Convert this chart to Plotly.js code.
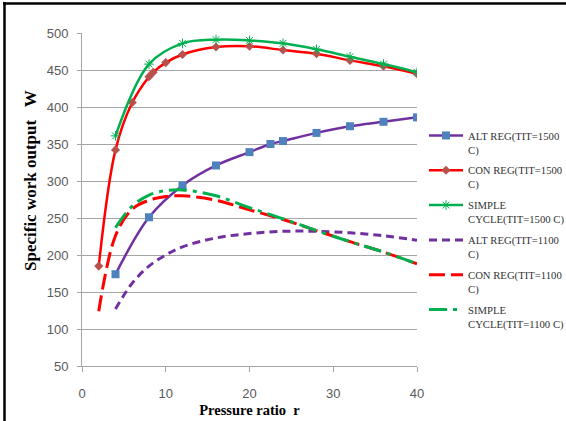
<!DOCTYPE html>
<html>
<head>
<meta charset="utf-8">
<script src="https://cdn.plot.ly/plotly-3.0.1.min.js"></script>
<style>
  html, body { margin: 0; padding: 0; background: #fff; }
  #chart { width: 566px; height: 421px; }
</style>
</head>
<body>
<div id="chart"></div>
<script>
// ---- Data ----
const xAlt1500 = [4, 8, 12, 16, 20, 22.5, 24, 28, 32, 36, 40];
const yAlt1500 = [174, 251, 294, 321, 339, 350, 354, 365, 374, 380, 386];

const xCon1500 = [2, 4, 6, 8, 8.5, 10, 12, 16, 20, 24, 28, 32, 36, 40];
const yCon1500 = [185, 342, 406, 441, 447, 460, 471, 481, 482, 477, 472, 463, 455, 445];

const xSim1500 = [4, 8, 12, 16, 20, 24, 28, 32, 36, 40];
const ySim1500 = [361, 458, 486, 491, 490, 486, 478, 468, 458, 447];

const xAlt1100 = [4, 6, 8, 10, 12, 16, 20, 24, 28, 32, 36, 40];
const yAlt1100 = [127, 162, 185, 200, 211, 223, 229, 232, 232, 230, 226, 220];

const xCon1100 = [2, 4, 6, 8, 10, 12, 16, 20, 24, 28, 32, 36, 40];
const yCon1100 = [124, 226, 262, 274, 279, 280, 274, 261, 248, 233, 218, 204, 188];

const xSim1100 = [4, 6, 8, 10, 12, 16, 20, 24, 28, 32, 36, 40];
const ySim1100 = [237, 266, 281, 287, 288, 280, 264, 249, 233, 218, 204, 188];

const seriesNames = [
  "ALT REG(TIT=1500<br>C)",
  "CON REG(TIT=1500<br>C)",
  "SIMPLE<br>CYCLE(TIT=1500 C)",
  "ALT REG(TIT=1100<br>C)",
  "CON REG(TIT=1100<br>C)",
  "SIMPLE<br>CYCLE(TIT=1100 C)"
];

const xTickVals = [0, 10, 20, 30, 40];
const yTickVals = [50, 100, 150, 200, 250, 300, 350, 400, 450, 500];

const xTitle = "Pressure ratio\u00a0\u00a0r";
const yTitle = "Specific work output\u00a0\u00a0\u00a0W";

// ---- Traces ----
const spl = { shape: 'spline', smoothing: 1 };
const traces = [
  { x: xAlt1500, y: yAlt1500, name: seriesNames[0], mode: 'lines+markers',
    line: Object.assign({ color: '#7030A0', width: 2.5 }, spl),
    marker: { symbol: 'square', size: 8, color: '#4F81BD' }, legendgroup: 'a' },
  { x: xCon1500, y: yCon1500, name: seriesNames[1], mode: 'lines+markers',
    line: Object.assign({ color: '#FF0000', width: 2.5 }, spl),
    marker: { symbol: 'diamond', size: 7, color: '#B9504C' }, legendgroup: 'b' },
  { x: xSim1500, y: ySim1500, name: seriesNames[2], mode: 'lines+markers',
    line: Object.assign({ color: '#00B050', width: 2.5 }, spl),
    marker: { symbol: 'asterisk-open', size: 8, line: { color: '#A8C070', width: 1 } }, legendgroup: 'c' },
  { x: xAlt1100, y: yAlt1100, name: seriesNames[3], mode: 'lines',
    line: Object.assign({ color: '#7030A0', width: 3, dash: '8px,5px' }, spl), legendgroup: 'd' },
  { x: xCon1100, y: yCon1100, name: seriesNames[4], mode: 'lines',
    line: Object.assign({ color: '#FF0000', width: 3, dash: '16px,6px' }, spl), legendgroup: 'e' },
  { x: xSim1100, y: ySim1100, name: seriesNames[5], mode: 'lines',
    line: Object.assign({ color: '#00B050', width: 3, dash: '18px,6px,4px,6px' }, spl), legendgroup: 'f' }
];

// ---- Layout ----
const L = 82, R = 149, T = 33, B = 55, W = 566, H = 421;
const pw = W - L - R, ph = H - T - B;
const px = v => (v - L) / pw;       // pixel -> paper x
const py = v => (H - B - v) / ph;   // pixel -> paper y

const layout = {
  width: W, height: H,
  margin: { l: L, r: R, t: T, b: B, pad: 0, autoexpand: false },
  paper_bgcolor: '#ffffff',
  plot_bgcolor: '#ffffff',
  font: { family: 'Liberation Sans, Arial, sans-serif', color: '#595959', size: 13 },
  showlegend: true,
  legend: {
    x: px(424), y: py(122), xanchor: 'left', yanchor: 'top',
    font: { family: 'Liberation Serif, Times New Roman, serif', size: 10.7, color: '#333333' },
    valign: 'top', tracegroupgap: 4, bgcolor: 'rgba(0,0,0,0)', itemwidth: 34
  },
  xaxis: {
    range: [0, 40], tickvals: xTickVals, showgrid: false, zeroline: false,
    showline: true, linecolor: '#A6A6A6', linewidth: 1,
    ticks: 'outside', ticklen: 5, tickcolor: '#A6A6A6',
    ticklabelstandoff: 10,
    title: { text: xTitle, font: { family: 'Liberation Serif, Times New Roman, serif', size: 14.5, color: '#000', weight: 'bold' }, standoff: 5 }
  },
  yaxis: {
    range: [50, 500], tickvals: yTickVals, showgrid: true, gridcolor: '#A6A6A6', gridwidth: 1,
    zeroline: false, showline: true, linecolor: '#A6A6A6', linewidth: 1,
    ticks: 'outside', ticklen: 4, tickcolor: '#A6A6A6',
    ticklabelstandoff: 6
  },
  annotations: [
    { text: '<b>' + yTitle + '</b>', xref: 'paper', yref: 'paper', x: px(30), y: py(181),
      xanchor: 'center', yanchor: 'middle', textangle: -90, showarrow: false,
      font: { family: 'Liberation Serif, Times New Roman, serif', size: 17, color: '#000' } }
  ],
  shapes: [
    { type: 'line', xref: 'paper', yref: 'paper', x0: px(4.5), x1: px(4.5), y0: py(2), y1: py(H + 5),
      line: { color: '#000', width: 2.5 } },
    { type: 'line', xref: 'paper', yref: 'paper', x0: px(3), x1: px(W + 5), y0: py(3.5), y1: py(3.5),
      line: { color: '#000', width: 2.5 } }
  ]
};

Plotly.newPlot('chart', traces, layout, { displayModeBar: false, staticPlot: true });
</script>
</body>
</html>
